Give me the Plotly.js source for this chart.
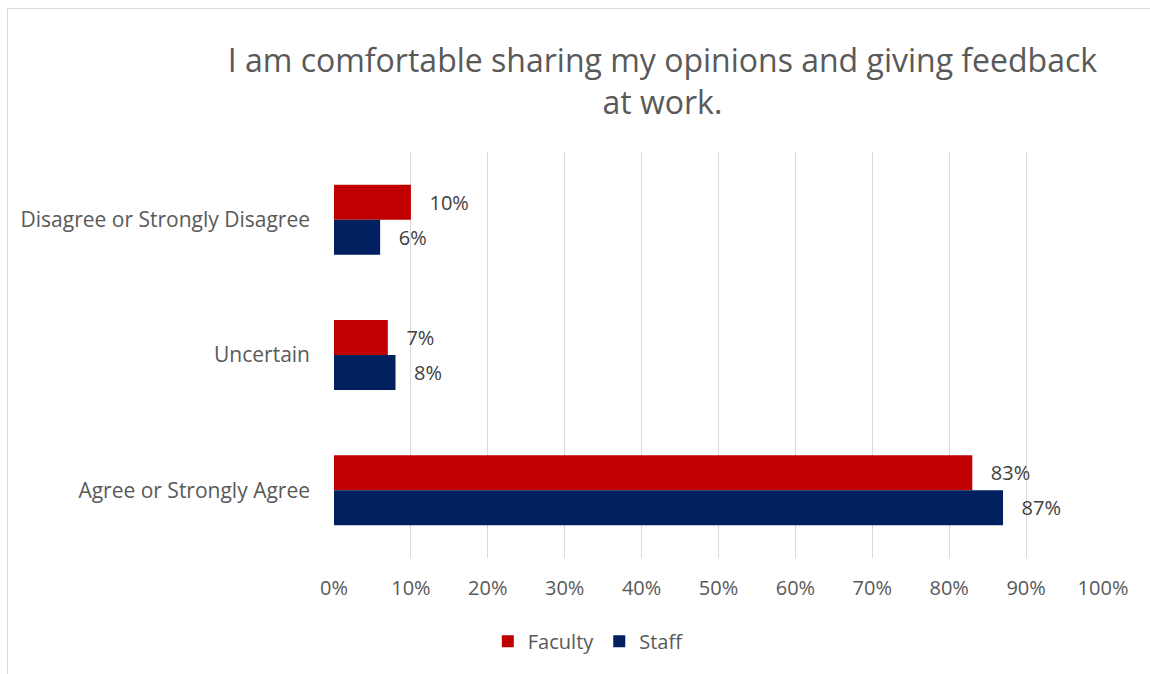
<!DOCTYPE html>
<html>
<head>
<meta charset="utf-8">
<script src="https://cdn.plot.ly/plotly-3.0.1.min.js"></script>
<style>
  html, body { margin: 0; padding: 0; width: 1150px; height: 674px; overflow: hidden; background: #fff; }
  #frame { position: absolute; left: 7px; top: 8px; width: 1200px; height: 700px;
           border-left: 1px solid #d9d9d9; border-top: 1px solid #d9d9d9; }
  #chart { position: absolute; left: 0; top: 0; width: 1150px; height: 674px; }
</style>
</head>
<body>
<div id="frame"></div>
<div id="chart"></div>
<script>
// categories top to bottom
var categories = ['Disagree or Strongly Disagree', 'Uncertain', 'Agree or Strongly Agree'];
var faculty = [0.10, 0.07, 0.83];
var staff = [0.06, 0.08, 0.87];
var xTicks = [0, 0.1, 0.2, 0.3, 0.4, 0.5, 0.6, 0.7, 0.8, 0.9, 1.0];

var fontFamily = '"Open Sans", "Noto Sans", sans-serif';

function series(name, values, color) {
    return {
        type: 'bar',
        orientation: 'h',
        name: name,
        y: categories,
        x: values,
        marker: { color: color },
        text: values.map(function (v) { return Math.round(v * 100) + '%'; }),
        texttemplate: '&nbsp;&nbsp;&nbsp;%{text}',
        textposition: 'outside',
        cliponaxis: false,
        textfont: { family: fontFamily, size: 20, color: '#404040' },
        hoverinfo: 'x+y'
    };
}

var data = [
    series('Faculty', faculty, '#C00000'),
    series('Staff', staff, '#002060')
];

var layout = {
    width: 1150,
    height: 674,
    paper_bgcolor: 'rgba(0,0,0,0)',
    plot_bgcolor: 'rgba(0,0,0,0)',
    margin: { l: 334, r: 47, t: 152, b: 116 },
    font: { family: fontFamily, color: '#595959' },
    title: {
        text: 'I am comfortable sharing my opinions and giving feedback<br>at work.',
        font: { family: fontFamily, size: 32, color: '#595959' },
        x: 0.576, xanchor: 'center',
        y: 0.893, yanchor: 'middle'
    },
    barmode: 'group',
    bargap: 0.483,
    bargroupgap: 0,
    xaxis: {
        range: [0, 1],
        tickvals: xTicks,
        tickformat: '.0%',
        showgrid: true,
        gridcolor: '#d9d9d9',
        gridwidth: 1,
        zeroline: false,
        showline: false,
        ticks: '',
        ticklabelstandoff: 16,
        tickfont: { family: fontFamily, size: 20, color: '#595959' }
    },
    yaxis: {
        type: 'category',
        categoryorder: 'array',
        categoryarray: categories,
        autorange: 'reversed',
        showgrid: false,
        zeroline: false,
        showline: false,
        ticks: '',
        ticklabelstandoff: 23,
        tickfont: { family: fontFamily, size: 21, color: '#595959' }
    },
    showlegend: true,
    legend: {
        orientation: 'h',
        x: 0.2, xanchor: 'left',
        y: -0.205, yanchor: 'middle',
        font: { family: fontFamily, size: 20, color: '#595959' },
        itemwidth: 30,
        bgcolor: 'rgba(0,0,0,0)'
    }
};

Plotly.newPlot('chart', data, layout, { displayModeBar: false, staticPlot: true });
</script>
</body>
</html>
